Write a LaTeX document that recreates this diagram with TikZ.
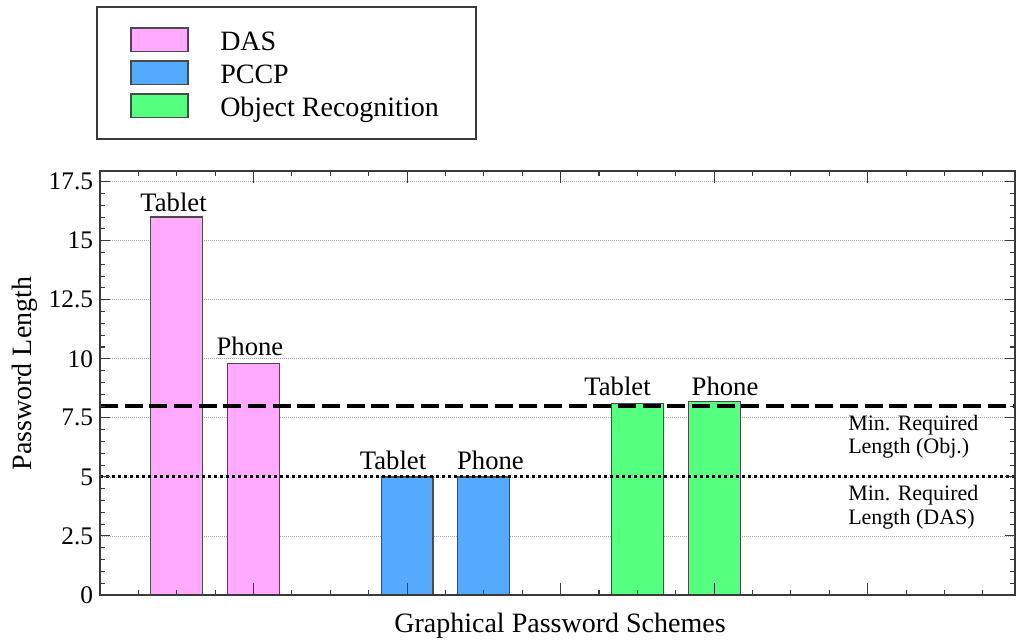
\documentclass[tikz,border=0pt]{standalone}
\usepackage{fontspec}
\setmainfont{Liberation Serif}
\newfontfamily\tms{Liberation Serif}
\definecolor{dascol}{HTML}{FFAAFF}
\definecolor{pccpcol}{HTML}{55AAFF}
\definecolor{objcol}{HTML}{55FF7F}
\definecolor{axiscol}{HTML}{3A3A3A}
\definecolor{barline}{HTML}{4A4A4A}
\definecolor{gridcol}{HTML}{A8A8A8}
\begin{document}
\begin{tikzpicture}[x=0.75pt,y=-0.75pt,
  barbox/.style={draw=barline, line width=0.9pt},
  barlbl/.style={font=\tms\fontsize{20}{24}\selectfont, anchor=base, inner sep=0pt},
  ticklbl/.style={font=\tms\fontsize{19}{22}\selectfont, anchor=east, inner sep=0pt},
  legtext/.style={font=\tms\fontsize{21}{25}\selectfont, anchor=base west, inner sep=0pt},
  axtitle/.style={font=\tms\fontsize{21}{25}\selectfont, inner sep=0pt},
  minlbl/.style={font=\tms\fontsize{16.5}{20}\selectfont, anchor=base west, inner sep=0pt},
  gridline/.style={draw=gridcol, line width=0.6pt, dash pattern=on 0.75pt off 0.75pt},
  objline/.style={draw=black, line width=2.6pt, dash pattern=on 13.5pt off 5pt},
  dasline/.style={draw=black, line width=2.3pt, dash pattern=on 2.2pt off 2.3pt},
  tickmark/.style={draw=axiscol, line width=0.8pt},
  framebox/.style={draw=axiscol, line width=1.5pt}]
\useasboundingbox (0,0) rectangle (1017,639);
\fill[white] (0,0) rectangle (1017,639);

% legend
\draw[draw=axiscol, line width=0.9pt] (97,7) rectangle (476,139);
\draw[barbox, fill=dascol]  (131,28) rectangle (188,51.5);
\draw[barbox, fill=pccpcol] (131,61) rectangle (188,84.5);
\draw[barbox, fill=objcol]  (131,94) rectangle (188,117.5);
\node[legtext] (ldas)  at (220,50)  {DAS};
\node[legtext] (lpccp) at (220,83.3) {PCCP};
\node[legtext] (lobj)  at (220,116.7) {Object Recognition};

% plot
\begin{scope}[shift={(100,595)}, x=28.789pt, y=17.715pt]
  \foreach \v in {2.5,5,7.5,10,12.5,15,17.5}
    \draw[gridline] (0,\v) -- (23.84,\v);
  % bars
  \draw[barbox, fill=dascol]  (1.323,0) rectangle (2.677,16);
  \draw[barbox, fill=dascol]  (3.323,0) rectangle (4.677,9.8);
  \draw[barbox, fill=pccpcol] (7.323,0) rectangle (8.677,5);
  \draw[barbox, fill=pccpcol] (9.323,0) rectangle (10.677,5);
  \draw[barbox, fill=objcol]  (13.323,0) rectangle (14.677,8.1);
  \draw[barbox, fill=objcol]  (15.323,0) rectangle (16.677,8.2);
  % reference lines
  \coordinate (oL) at (0,8);   \coordinate (oR) at (23.84,8);
  \coordinate (dL) at (0,5);   \coordinate (dR) at (23.84,5);
  \draw[objline] (oL) -- (oR);
  \draw[dasline] (dL) -- (dR);
  % x ticks
  \foreach \i in {1,...,23} {
    \draw[tickmark] (\i,0) -- ++(0,3.75pt);
    \draw[tickmark] (\i,17.95) -- ++(0,-3.75pt);
  }
  \foreach \i in {4,8,...,20} {
    \draw[tickmark] (\i,0) -- ++(0,9pt);
    \draw[tickmark] (\i,17.95) -- ++(0,-9pt);
  }
  % y ticks
  \foreach \v in {0.5,1,...,17.5} {
    \draw[tickmark] (0,\v) -- ++(4pt,0);
    \draw[tickmark] (23.84,\v) -- ++(-4pt,0);
  }
  \foreach \v in {2.5,5,...,17.5} {
    \draw[tickmark] (0,\v) -- ++(7.5pt,0);
    \draw[tickmark] (23.84,\v) -- ++(-7.5pt,0);
  }
  \foreach \v/\t in {0/0,2.5/2.5,5/5,7.5/7.5,10/10,12.5/12.5,15/15,17.5/17.5}
    \node[ticklbl] (yt\t) at ([xshift=-5pt]0,\v) {\t};
  \draw[framebox] (0,0) rectangle (23.84,17.95);
\end{scope}

% bar labels
\node[barlbl] (t1) at (173.5,211) {Tablet};
\node[barlbl] (p1) at (250,355) {Phone};
\node[barlbl] (t2) at (393,469) {Tablet};
\node[barlbl] (p2) at (490.5,469) {Phone};
\node[barlbl] (t3) at (617.5,395) {Tablet};
\node[barlbl] (p3) at (725,395) {Phone};

% reference line labels
\node[minlbl] (mo1) at (848,430) {Min. Required};
\node[minlbl] (mo2) at (848,453.5) {Length (Obj.)};
\node[minlbl] (md1) at (848,500) {Min. Required};
\node[minlbl] (md2) at (848,524) {Length (DAS)};

% axis titles
\node[axtitle, rotate=90] (ytitle) at (25,373.5) {Password Length};
\node[axtitle, anchor=base] (xtitle) at (560,632) {Graphical Password Schemes};
\end{tikzpicture}
\end{document}
